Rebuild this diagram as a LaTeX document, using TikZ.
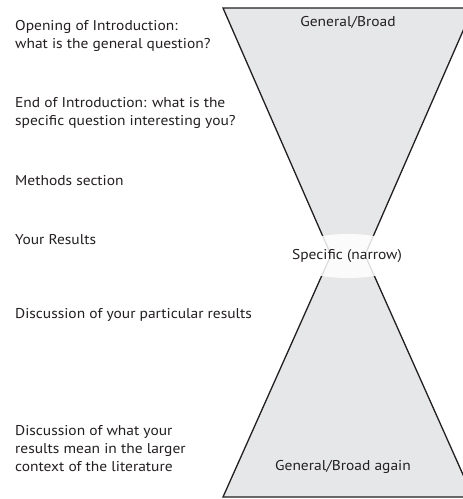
\documentclass[tikz,border=0pt]{standalone}
\usepackage{fontspec}
\setmainfont{PT Sans}[FakeStretch=1.09]
\usetikzlibrary{shapes.geometric}
\definecolor{inkblack}{HTML}{231F20}
\definecolor{glassgray}{HTML}{E6E7E8}
\tikzset{
  lbl/.style={anchor=west, align=left, inner sep=0pt, font=\fontsize{14.2}{18}\selectfont, text=inkblack},
  clbl/.style={anchor=center, inner sep=0pt, font=\fontsize{14.2}{18}\selectfont, text=inkblack},
  glass/.style={fill=glassgray, draw=inkblack, line width=1.3pt, line join=miter}
}
\begin{document}
\begin{tikzpicture}[x=1pt,y=-1pt]
\useasboundingbox (0,0) rectangle (463,499);
\fill[white] (0,0) rectangle (463,499);
% hourglass
\draw[glass] (223,8) -- (473,8) -- (365,255) -- (473,497) -- (223,497) -- (331,255) -- cycle;
% white band at the neck
\node[ellipse, fill=white, fill opacity=0.85, minimum width=124pt, minimum height=44pt, inner sep=0pt] (band) at (348,256) {};
\node[clbl] (spec) at (347,256) {Specific (narrow)};
\node[clbl] (gtop) at (348,22) {General/Broad};
\node[clbl] (gbot) at (343,467) {General/Broad again};
% left labels
\node[lbl] (open) at (15,35.5) {Opening of Introduction:\\what is the general question?};
\node[lbl] (endi) at (15,112.5) {End of Introduction: what is the\\specific question interesting you?};
\node[lbl] (meth) at (15,181) {Methods section};
\node[lbl] (res) at (15,240) {Your Results};
\node[lbl] (disc) at (15,315) {Discussion of your particular results};
\node[lbl] (ctx) at (15,449) {Discussion of what your\\results mean in the larger\\context of the literature};
\end{tikzpicture}
\end{document}
